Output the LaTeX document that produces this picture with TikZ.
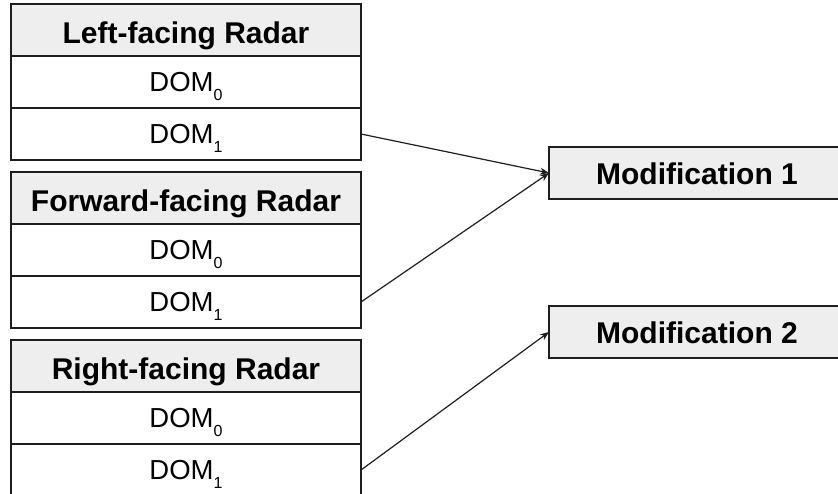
\documentclass[tikz,border=0pt]{standalone}
\usepackage{fontspec}
\setmainfont{Liberation Sans}
\usetikzlibrary{arrows.meta}
\definecolor{headfill}{HTML}{EEEEEE}
\definecolor{edge}{HTML}{1E1E1E}
\tikzset{
  rowbox/.style={draw=edge, line width=1.6pt, rectangle, inner sep=0pt, outer sep=0pt,
    minimum width=350pt, anchor=north west},
  headrow/.style={rowbox, fill=headfill, minimum height=52pt,
    text height=39pt, text depth=13pt, font=\fontsize{30}{32}\selectfont\bfseries},
  domrow/.style={rowbox, fill=white, minimum height=52pt,
    text height=35pt, text depth=17pt, font=\fontsize{27.5}{28}\selectfont},
  modbox/.style={draw=edge, line width=1.6pt, fill=headfill, rectangle, inner sep=0pt,
    outer sep=0pt, minimum width=296pt, minimum height=52pt, anchor=north west,
    text height=37pt, text depth=15pt, font=\fontsize{30}{32}\selectfont\bfseries},
  link/.style={draw=edge, line width=1.2pt, -{Stealth[length=9pt,width=7pt]}}
}
\newcommand{\domsub}[1]{DOM\raisebox{-9.5pt}{\fontsize{16}{16}\selectfont #1}}
\begin{document}
\begin{tikzpicture}[x=1pt,y=-1pt]
  \useasboundingbox (0,0) rectangle (838,493);
  % left-facing radar
  \node[headrow] (lhead) at (11,4) {Left-facing Radar};
  \node[domrow] (ldom0) at (11,56) {\domsub{0}};
  \node[domrow] (ldom1) at (11,108) {\domsub{1}};
  % forward-facing radar
  \node[headrow] (fhead) at (11,172) {Forward-facing Radar};
  \node[domrow] (fdom0) at (11,224) {\domsub{0}};
  \node[domrow] (fdom1) at (11,276) {\domsub{1}};
  % right-facing radar
  \node[headrow] (rhead) at (11,340) {Right-facing Radar};
  \node[domrow] (rdom0) at (11,392) {\domsub{0}};
  \node[domrow] (rdom1) at (11,444) {\domsub{1}};
  % modifications
  \node[modbox] (mod1) at (549,147) {Modification 1};
  \node[modbox] (mod2) at (549,306) {Modification 2};
  % links
  \draw[link] (ldom1.east) -- (mod1.west);
  \draw[link] (fdom1.east) -- (mod1.west);
  \draw[link] (rdom1.east) -- (mod2.west);
\end{tikzpicture}
\end{document}
